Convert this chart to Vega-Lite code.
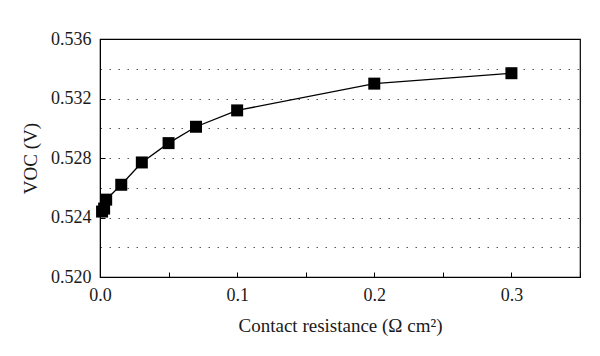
{
  "$schema": "https://vega.github.io/schema/vega-lite/v6.json",
  "autosize": {"type": "none"},
  "width": 480,
  "height": 238,
  "padding": {"left": 100, "top": 39, "right": 20, "bottom": 79},
  "background": "white",
  "config": {
    "view": {"stroke": "black", "strokeWidth": 1.2},
    "font": "Liberation Serif"
  },
  "data": {
    "values": [
      {"r": 0.0015, "v": 0.5244},
      {"r": 0.003, "v": 0.5246},
      {"r": 0.0045, "v": 0.5252},
      {"r": 0.0155, "v": 0.5262},
      {"r": 0.0305, "v": 0.5277},
      {"r": 0.05, "v": 0.5290},
      {"r": 0.07, "v": 0.5301},
      {"r": 0.1, "v": 0.5312},
      {"r": 0.2, "v": 0.5330},
      {"r": 0.3, "v": 0.5337}
    ]
  },
  "encoding": {
    "x": {
      "field": "r",
      "type": "quantitative",
      "scale": {"domain": [0, 0.35], "nice": false, "zero": false},
      "axis": {
        "title": "Contact resistance (Ω cm²)",
        "values": [0, 0.05, 0.1, 0.15, 0.2, 0.25, 0.3, 0.35],
        "labelExpr": "round(datum.value*100) % 10 == 0 ? format(datum.value, '.1f') : ''",
        "grid": false,
        "tickSize": -5,
        "tickColor": "black",
        "domainColor": "black",
        "labelFont": "Liberation Serif",
        "labelFontSize": 18,
        "labelColor": "#1a1a1a",
        "titleFont": "Liberation Serif",
        "titleFontSize": 19,
        "titleFontWeight": "normal",
        "titleColor": "#1a1a1a",
        "labelPadding": 14,
        "titlePadding": 12,
        "labelFlush": false
      }
    },
    "y": {
      "field": "v",
      "type": "quantitative",
      "scale": {"domain": [0.52, 0.536], "nice": false, "zero": false},
      "axis": {
        "title": "VOC (V)",
        "values": [0.52, 0.522, 0.524, 0.526, 0.528, 0.53, 0.532, 0.534, 0.536],
        "labelExpr": "round(datum.value*1000) % 4 == 0 ? format(datum.value, '.3f') : ''",
        "grid": true,
        "gridColor": "#555",
        "gridDash": [1.5, 7.5],
        "gridWidth": 1,
        "gridOpacity": {"condition": {"test": "datum.value < 0.5205 || datum.value > 0.5355", "value": 0}, "value": 1},
        "tickOpacity": {"condition": {"test": "round(datum.value*1000) % 4 == 0", "value": 1}, "value": 0},
        "tickSize": -5,
        "tickColor": "black",
        "domainColor": "black",
        "labelFont": "Liberation Serif",
        "labelFontSize": 18,
        "labelColor": "#1a1a1a",
        "titleFont": "Liberation Serif",
        "titleFontSize": 19,
        "titleFontWeight": "normal",
        "titleColor": "#1a1a1a",
        "labelPadding": 14,
        "titlePadding": 10,
        "labelFlush": false
      }
    }
  },
  "layer": [
    {"mark": {"type": "line", "color": "black", "strokeWidth": 1.3}},
    {"mark": {"type": "point", "shape": "square", "filled": true, "color": "black", "opacity": 1, "size": 144}}
  ]
}
